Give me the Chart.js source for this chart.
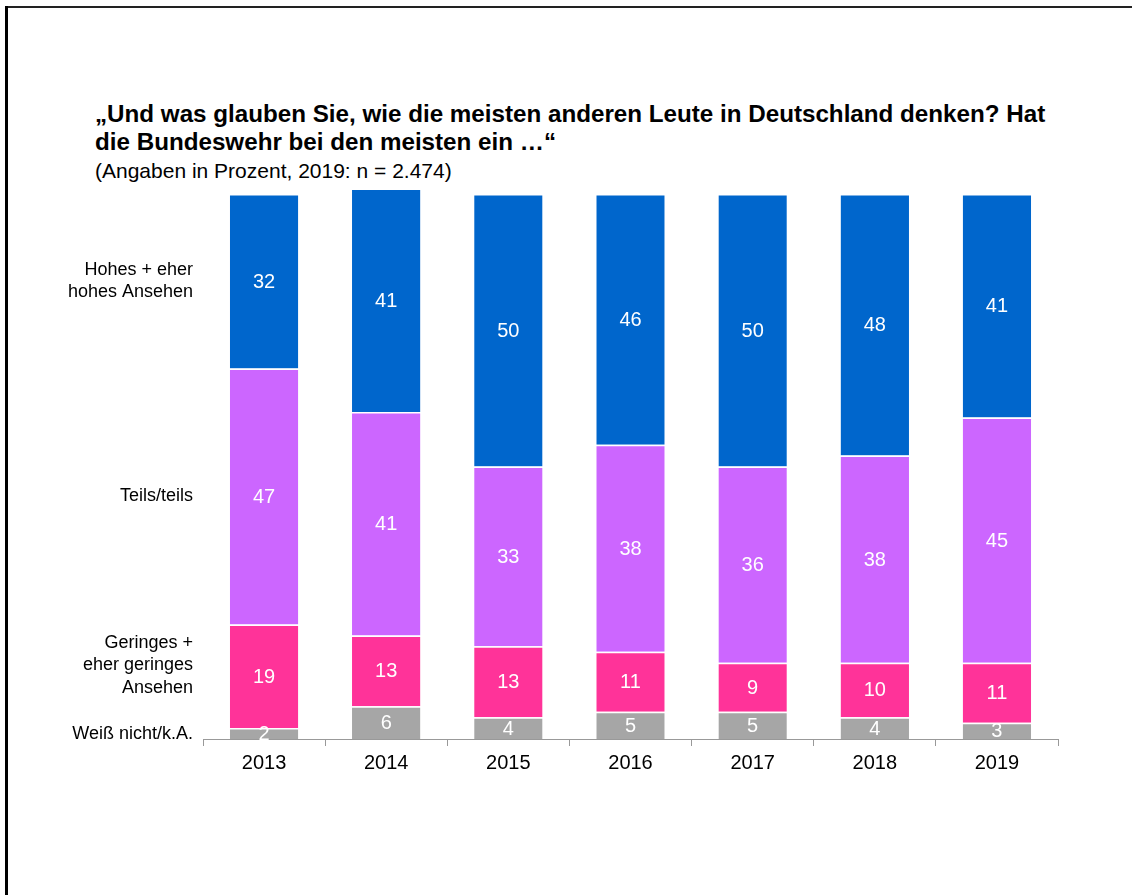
<!DOCTYPE html>
<html lang="de">
<head>
<meta charset="utf-8">
<script src="https://cdn.jsdelivr.net/npm/chart.js@4.4.1/dist/chart.umd.min.js"></script>
<style>
  html, body { margin: 0; padding: 0; background: #fff; overflow: hidden; }
  body { width: 1132px; height: 895px; position: relative; font-family: "Liberation Sans", Arial, sans-serif; }
  #linieOben { position: absolute; left: 5px; top: 6px; width: 1127px; height: 2px; background: #222; }
  #linieLinks { position: absolute; left: 5px; top: 6px; width: 3px; height: 889px; background: #000; }
  #titel { position: absolute; left: 95px; top: 100px; font-weight: bold; font-size: 24.2px; line-height: 28px; color: #000; white-space: nowrap; }
  #untertitel { position: absolute; left: 95px; top: 158px; font-size: 21px; line-height: 26px; color: #000; }
  #wrap { position: absolute; left: 0; top: 0; width: 1132px; height: 895px; }
</style>
</head>
<body>
<div id="linieOben"></div>
<div id="linieLinks"></div>
<div id="titel">„Und was glauben Sie, wie die meisten anderen Leute in Deutschland denken? Hat<br>die Bundeswehr bei den meisten ein …“</div>
<div id="untertitel">(Angaben in Prozent, 2019: n = 2.474)</div>
<div id="wrap"><canvas id="grafik" width="1132" height="895"></canvas></div>
<script>
// Jahre (x-Achse)
const jahre = ['2013', '2014', '2015', '2016', '2017', '2018', '2019'];

// Werte je Antwortkategorie, von unten nach oben gestapelt
const weissNicht = [2, 6, 4, 5, 5, 4, 3];
const geringes   = [19, 13, 13, 11, 9, 10, 11];
const teilsTeils = [47, 41, 33, 38, 36, 38, 45];
const hohes      = [32, 41, 50, 46, 50, 48, 41];

// Beschriftungen links neben dem ersten Balken
const labelWeiss    = ['Weiß nicht/k.A.'];
const labelGeringes = ['Geringes +', 'eher geringes', 'Ansehen'];
const labelTeils    = ['Teils/teils'];
const labelHohes    = ['Hohes + eher', 'hohes Ansehen'];

const farben = ['#A6A6A6', '#FF3399', '#CC66FF', '#0066CC'];

// Zahlen mittig in die Segmente schreiben
const wertePlugin = {
  id: 'werte',
  afterDatasetsDraw(chart) {
    const ctx = chart.ctx;
    ctx.save();
    ctx.fillStyle = '#fff';
    ctx.font = '20px "Liberation Sans", Arial, sans-serif';
    ctx.textAlign = 'center';
    ctx.textBaseline = 'middle';
    chart.data.datasets.forEach((ds, i) => {
      chart.getDatasetMeta(i).data.forEach((bar, j) => {
        const mitte = (bar.y + bar.base) / 2;
        ctx.fillText(ds.data[j], bar.x, mitte + 1);
      });
    });
    ctx.restore();
  }
};

// Kategorienamen links, auf Höhe der Segmente von 2013
const kategoriePlugin = {
  id: 'kategorien',
  afterDraw(chart) {
    const ctx = chart.ctx;
    ctx.save();
    ctx.fillStyle = '#000';
    ctx.font = '18px "Liberation Sans", Arial, sans-serif';
    ctx.textAlign = 'right';
    ctx.textBaseline = 'middle';
    const x = chart.chartArea.left - 10;
    chart.data.datasets.forEach((ds, i) => {
      const bar = chart.getDatasetMeta(i).data[0];
      let mitte = (bar.y + bar.base) / 2;
      if (i === 1) mitte -= 11; // etwas hoch, damit es nicht an "Weiß nicht" klebt
      const zeilen = ds.zeilen;
      const lh = 22.5;
      const start = mitte - (zeilen.length - 1) * lh / 2;
      zeilen.forEach((z, k) => ctx.fillText(z, x, start + k * lh));
    });
    ctx.restore();
  }
};

function datensatz(label, zeilen, werte, farbe) {
  return {
    label: label,
    zeilen: zeilen,
    data: werte,
    backgroundColor: farbe,
    borderColor: '#ffffff',
    borderWidth: { top: 1.5, bottom: 0, left: 0, right: 0 },
    borderSkipped: false,
    categoryPercentage: 1,
    barPercentage: 0.56,
    clip: false
  };
}

new Chart(document.getElementById('grafik'), {
  type: 'bar',
  data: {
    labels: jahre,
    datasets: [
      datensatz('Weiß nicht/k.A.', labelWeiss, weissNicht, farben[0]),
      datensatz('Geringes + eher geringes Ansehen', labelGeringes, geringes, farben[1]),
      datensatz('Teils/teils', labelTeils, teilsTeils, farben[2]),
      datensatz('Hohes + eher hohes Ansehen', labelHohes, hohes, farben[3])
    ]
  },
  options: {
    responsive: false,
    animation: false,
    layout: { padding: { left: 203, right: 74, top: 194, bottom: 0 } },
    plugins: {
      legend: { display: false },
      tooltip: { enabled: false }
    },
    scales: {
      x: {
        stacked: true,
        afterFit(scale) { scale.height = 156; },
        grid: { offset: true, drawOnChartArea: false, tickLength: 7, color: '#999', lineWidth: 1 },
        border: { display: true, color: '#999', width: 1 },
        ticks: { color: '#000', padding: 5, font: { family: '"Liberation Sans", Arial, sans-serif', size: 20 } }
      },
      y: {
        stacked: true,
        display: false,
        min: 0,
        max: 100
      }
    }
  },
  plugins: [wertePlugin, kategoriePlugin]
});
</script>
</body>
</html>
